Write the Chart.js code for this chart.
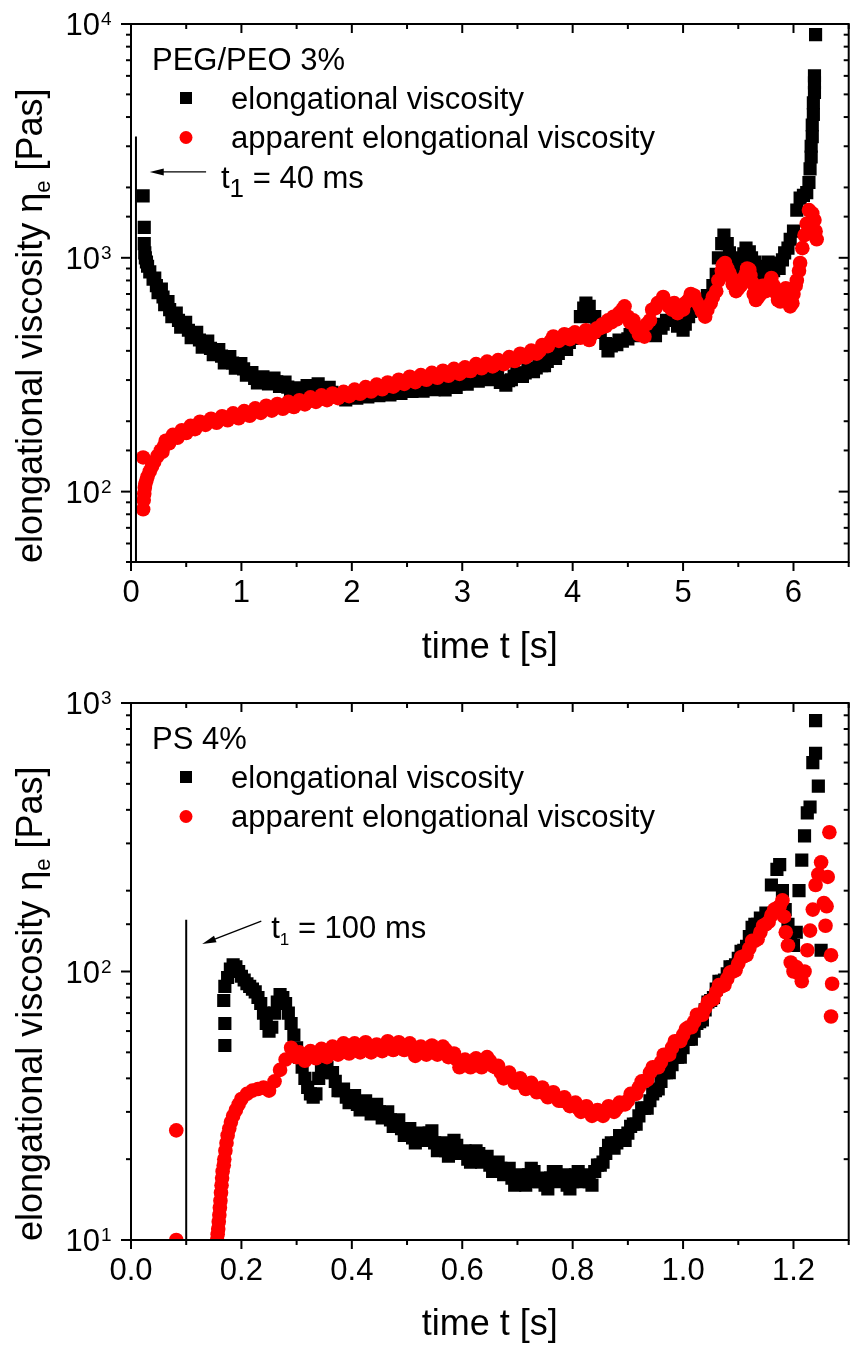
<!DOCTYPE html>
<html>
<head>
<meta charset="utf-8">
<script src="https://cdn.jsdelivr.net/npm/chart.js@4.4.1/dist/chart.umd.min.js"></script>
<style>
  body { margin: 0; background: #fff; }
  .wrap { position: relative; width: 858px; height: 1349px; }
  canvas { position: absolute; left: 0; }
</style>
</head>
<body>
<div class="wrap">
  <canvas id="panel-peo" width="858" height="680" style="top:0"></canvas>
  <canvas id="panel-ps" width="858" height="680" style="top:669px"></canvas>
</div>
<script>
// Values, as [time s, viscosity Pas].
// The second block of each dense series holds the points on the other edge of the band.

// PEG/PEO 3% - elongational viscosity (black squares)
const peoElong = [
  [0.11,1840],[0.12,1350],[0.12,1150],[0.125,1050],[0.13,1000],[0.14,960],[0.15,920],[0.17,870],
  [0.2,810],[0.23,760],[0.26,720],[0.29,680],[0.32,640],[0.35,600],[0.39,565],[0.43,540],
  [0.47,515],[0.52,490],[0.57,465],[0.62,445],[0.67,425],[0.72,410],[0.77,395],[0.82,380],
  [0.87,365],[0.92,355],[0.97,345],[1.02,335],[1.07,320],[1.12,305],[1.17,300],[1.22,300],
  [1.27,298],[1.32,295],[1.37,290],[1.42,280],[1.47,268],[1.52,270],[1.57,272],[1.62,278],
  [1.67,280],[1.72,278],[1.77,272],[1.82,266],[1.87,258],[1.92,252],[1.97,255],[2.02,256],
  [2.07,258],[2.12,260],[2.17,260],[2.22,263],[2.27,266],[2.32,265],[2.37,266],[2.42,270],
  [2.47,272],[2.52,275],[2.57,277],[2.62,275],[2.67,278],[2.72,282],[2.77,280],[2.82,279],
  [2.87,283],[2.92,286],[2.97,289],[3.02,295],[3.07,300],[3.12,304],[3.17,308],[3.22,306],
  [3.27,310],[3.32,308],[3.37,296],[3.42,298],[3.47,312],[3.52,318],[3.57,322],[3.62,330],
  [3.67,338],[3.72,346],[3.77,360],[3.82,374],[3.87,390],[3.92,408],[3.97,435],[4.02,470],
  [4.07,560],[4.1,610],[4.15,620],[4.2,560],[4.25,480],[4.3,430],[4.35,420],[4.4,425],
  [4.45,440],[4.5,450],[4.55,465],[4.6,470],[4.65,480],[4.7,470],[4.75,465],[4.8,500],
  [4.85,540],[4.9,540],[4.95,510],[5.0,490],[5.05,560],[5.1,620],[5.15,640],[5.2,650],
  [5.25,680],[5.3,850],[5.35,1150],[5.4,1150],[5.45,980],[5.5,930],[5.55,1040],[5.6,1060],
  [5.65,960],[5.7,900],[5.75,920],[5.8,950],[5.85,930],[5.9,980],[5.95,1100],[6.0,1300],
  [6.03,1600],[6.06,1800],[6.09,1850],[6.12,1900],[6.14,2100],[6.15,2400],[6.16,2700],[6.16,3000],
  [6.17,3300],[6.17,3700],[6.18,4100],[6.18,4600],[6.19,5100],[6.19,5600],[6.19,6000],[6.2,9000],
  [0.215,820],[0.245,710],[0.275,735],[0.305,630],[0.335,650],[0.37,560],[0.41,580],[0.45,505],
  [0.495,530],[0.545,455],[0.595,480],[0.645,415],[0.695,440],[0.745,385],[0.795,405],[0.845,355],
  [0.895,378],[0.945,337],[0.995,353],[1.045,315],[1.095,323],[1.145,292],[1.195,310],[1.245,289],
  [1.295,306],[1.345,282],[1.395,294],[1.445,266],[1.495,278],[1.545,263],[1.595,284],[1.645,271],
  [1.695,289],[1.745,268],[1.795,279],[1.845,256],[1.895,262],[1.945,247],[2.045,251],[2.095,265],
  [2.145,254],[2.195,269],[2.245,257],[2.295,273],[2.345,259],[2.395,275],[2.445,263],[2.495,281],
  [2.545,268],[2.595,284],[2.645,269],[2.695,287],[2.745,273],[2.795,289],[2.845,272],[2.895,293],
  [2.945,279],[2.995,299],[3.045,288],[3.095,311],[3.145,297],[3.195,317],[3.245,301],[3.295,317],
  [3.345,293],[3.395,285],[3.445,301],[3.495,321],[3.545,311],[3.595,334],[3.645,326],[3.695,350],
  [3.745,346],[3.795,376],[3.845,371],[3.895,408],[3.945,406],[3.995,452],
  [4.12,640],[4.17,560],[4.22,520],[4.32,400],[4.42,445],[4.52,470],[4.62,490],[4.72,480],
  [4.82,520],[4.92,560],[5.02,520],[5.07,590],[5.12,660],[5.17,610],[5.22,690],[5.27,760],
  [5.32,1000],[5.37,1250],[5.42,1050],[5.47,900],[5.52,1000],[5.57,1100],[5.62,1000],[5.67,880],
  [5.72,850],[5.77,960],[5.82,880],[5.87,900],[5.92,1050],[5.97,1200]
];

// PEG/PEO 3% - apparent elongational viscosity (red circles)
const peoApparent = [
  [0.11,140],[0.11,84],[0.115,92],[0.12,98],[0.125,104],[0.13,108],[0.14,112],[0.15,116],
  [0.17,122],[0.19,128],[0.21,134],[0.24,142],[0.27,150],[0.3,157],[0.33,163],[0.36,168],
  [0.4,172],[0.44,176],[0.48,180],[0.52,184],[0.56,188],[0.6,192],[0.65,196],[0.7,199],
  [0.75,201],[0.8,203],[0.85,206],[0.9,209],[0.95,210],[1.0,213],[1.05,214],[1.1,218],
  [1.15,221],[1.2,224],[1.25,226],[1.3,228],[1.35,230],[1.4,233],[1.45,234],[1.5,236],
  [1.55,240],[1.6,242],[1.65,246],[1.7,249],[1.75,250],[1.8,253],[1.85,255],[1.9,257],
  [1.95,260],[2.0,262],[2.05,266],[2.1,268],[2.15,272],[2.2,274],[2.25,278],[2.3,281],
  [2.35,284],[2.4,289],[2.45,292],[2.5,298],[2.55,300],[2.6,302],[2.65,306],[2.7,310],
  [2.75,312],[2.8,316],[2.85,318],[2.9,322],[2.95,324],[3.0,326],[3.05,330],[3.1,338],
  [3.15,342],[3.2,345],[3.25,348],[3.3,350],[3.35,355],[3.4,360],[3.45,366],[3.5,372],
  [3.55,380],[3.6,385],[3.65,392],[3.7,400],[3.75,420],[3.8,440],[3.85,452],[3.9,455],
  [3.95,460],[4.0,462],[4.05,470],[4.1,465],[4.15,445],[4.2,480],[4.25,500],[4.3,510],
  [4.35,530],[4.4,545],[4.45,600],[4.5,560],[4.55,540],[4.6,470],[4.65,460],[4.7,540],
  [4.75,610],[4.8,650],[4.85,640],[4.9,600],[4.95,580],[5.0,600],[5.05,660],[5.1,690],
  [5.15,620],[5.2,560],[5.25,640],[5.3,720],[5.35,880],[5.38,950],[5.42,860],[5.45,770],
  [5.5,740],[5.53,780],[5.57,860],[5.6,890],[5.63,780],[5.66,660],[5.7,700],[5.75,720],
  [5.8,820],[5.85,700],[5.88,650],[5.91,720],[5.94,680],[5.97,620],[6.0,700],[6.03,800],
  [6.06,950],[6.08,1100],[6.1,1250],[6.12,1400],[6.14,1600],[6.17,1550],[6.19,1450],[6.2,1300],
  [6.21,1200],
  [0.285,148],[0.315,165],[0.345,161],[0.38,175],[0.42,170],[0.46,183],[0.5,178],[0.54,191],
  [0.58,185],[0.625,199],[0.675,193],[0.725,205],[0.775,197],[0.825,210],[0.875,202],[0.925,216],
  [0.975,206],[1.025,221],[1.075,211],[1.125,227],[1.175,217],[1.225,233],[1.275,222],[1.325,237],
  [1.375,226],[1.425,242],[1.475,230],[1.525,246],[1.575,236],[1.625,253],[1.675,242],[1.725,258],
  [1.775,246],[1.825,263],[1.875,251],[1.925,267],[1.975,256],[2.025,273],[2.075,262],[2.125,280],
  [2.175,268],[2.225,287],[2.275,274],[2.325,293],[2.375,281],[2.425,301],[2.475,289],[2.525,310],
  [2.575,294],[2.625,315],[2.675,301],[2.725,322],[2.775,307],[2.825,329],[2.875,313],[2.925,335],
  [2.975,319],[3.025,340],[3.075,328],[3.125,351],[3.175,337],[3.225,360],[3.275,343],[3.325,365],
  [3.375,351],[3.425,376],[3.475,362],[3.525,389],[3.575,375],[3.625,401],[3.675,389],[3.725,424],
  [3.775,419],[3.825,461],[3.875,441],[3.925,471],[3.975,449],
  [4.02,480],[4.07,455],[4.12,490],[4.17,470],[4.22,500],[4.27,520],[4.32,540],[4.37,560],
  [4.42,580],[4.47,620],[4.52,530],[4.57,500],[4.62,500],[4.67,520],[4.72,600],[4.77,640],
  [4.82,680],[4.87,620],[4.92,640],[4.97,620],[5.02,640],[5.07,700],[5.12,650],[5.17,590],
  [5.22,600],[5.27,680],[5.32,800],[5.36,930],[5.4,900],[5.44,820],[5.48,720],[5.52,760],
  [5.55,820],[5.58,900],[5.61,840],[5.64,700],[5.68,680],[5.72,760],[5.78,780],[5.82,760],
  [5.86,660],[5.9,690],[5.93,740],[5.96,650],[5.99,640],[6.02,760],[6.05,880]
];

// PS 4% - elongational viscosity (black squares)
const psElong = [
  [0.17,53],[0.17,64],[0.168,78],[0.17,88],[0.175,95],[0.18,102],[0.185,106],[0.19,104],
  [0.195,100],[0.2,96],[0.205,93],[0.21,90],[0.215,88],[0.22,86],[0.225,84],[0.23,80],
  [0.235,76],[0.24,70],[0.245,64],[0.25,60],[0.255,62],[0.26,70],[0.265,77],[0.27,82],
  [0.275,80],[0.28,76],[0.285,70],[0.29,64],[0.295,58],[0.3,52],[0.305,48],[0.31,44],
  [0.315,40],[0.32,37],[0.325,35],[0.33,34],[0.335,35],[0.34,40],[0.345,44],[0.35,46],
  [0.355,44],[0.36,42],[0.37,39],[0.38,36],[0.39,34],[0.4,33],[0.41,32],[0.42,32],
  [0.43,31],[0.44,31],[0.45,30],[0.46,29],[0.47,28],[0.48,27],[0.49,26],[0.5,25],
  [0.51,24],[0.52,23.5],[0.53,24],[0.54,25],[0.55,23],[0.56,22],[0.57,21.5],[0.58,22],
  [0.59,22.5],[0.6,21],[0.61,20],[0.62,20.5],[0.63,21],[0.64,20],[0.65,19],[0.66,18.5],
  [0.67,18.5],[0.68,18],[0.69,17],[0.7,16.5],[0.71,16.5],[0.72,17.5],[0.73,18],[0.74,16.5],
  [0.75,16],[0.76,17],[0.77,18],[0.78,17],[0.79,16],[0.8,16.5],[0.81,18],[0.82,17],
  [0.83,16.5],[0.84,18],[0.85,19],[0.86,21],[0.87,23],[0.88,23],[0.89,24],[0.9,25],
  [0.91,27],[0.92,29],[0.93,31],[0.94,33],[0.95,36],[0.96,39],[0.97,42],[0.98,45],
  [0.99,48],[1.0,52],[1.01,56],[1.02,60],[1.03,65],[1.04,72],[1.05,78],[1.06,86],
  [1.07,92],[1.08,98],[1.09,104],[1.1,112],[1.11,120],[1.12,135],[1.13,150],[1.14,158],
  [1.15,165],[1.16,210],[1.17,240],[1.175,250],[1.18,200],[1.185,170],[1.19,150],[1.195,130],
  [1.2,125],[1.205,140],[1.21,200],[1.215,260],[1.22,320],[1.225,390],[1.23,410],[1.235,600],
  [1.24,650],[1.24,860],[1.245,490],[1.25,120],
  [0.365,42],[0.375,36],[0.385,36.5],[0.395,32.5],[0.405,34.5],[0.415,30.5],[0.425,33],[0.435,29.5],
  [0.445,32],[0.455,28.5],[0.465,30],[0.475,26.5],[0.485,28],[0.495,24.5],[0.505,26],[0.515,23],
  [0.525,25],[0.535,23.5],[0.545,25.5],[0.555,21.5],[0.565,23],[0.575,20.5],[0.585,23.5],[0.595,21],
  [0.605,21.5],[0.615,19.5],[0.625,21.5],[0.635,19.5],[0.645,20.5],[0.655,18],[0.665,19.5],[0.675,17.5],
  [0.685,18.5],[0.695,16],[0.705,17.5],[0.715,16],[0.725,18.5],[0.735,16.5],[0.745,17],[0.755,15.5],
  [0.765,18],[0.775,16.5],[0.785,17.5],[0.795,15.5],[0.805,17.5],[0.815,16.5],[0.825,17.5],[0.835,16],
  [0.845,19],[0.855,19.5],[0.865,22.5],[0.875,22],[0.885,24.5],[0.895,23.5],[0.905,26.5],[0.915,27],
  [0.925,31],[0.935,31],[0.945,35],[0.955,36.5],[0.965,42],[0.975,42],[0.985,48],[0.995,48],
  [1.005,56],[1.015,56],[1.025,64],[1.035,66],[1.045,77],[1.055,80],[1.065,92],[1.075,93],
  [1.085,104],[1.095,106],[1.105,119],[1.115,124],[1.125,146],[1.135,150]
];

// PS 4% - apparent elongational viscosity (red circles)
const psApparent = [
  [0.082,25.6],[0.082,10],[0.156,10],[0.157,10.5],[0.158,11],[0.159,11.7],[0.16,12.4],[0.161,13.2],
  [0.162,14],[0.163,15],[0.164,16],[0.165,17],[0.166,18],[0.168,19],[0.169,20],[0.171,21.5],
  [0.173,23],[0.175,24.5],[0.178,26],[0.181,27.5],[0.185,29],[0.19,30.5],[0.195,32],[0.2,33.5],
  [0.21,35],[0.22,36],[0.23,36.5],[0.24,37],[0.25,36],[0.26,39],
  [0.27,43],[0.28,47],[0.29,52],[0.3,48],[0.31,48],[0.32,48.5],[0.33,49],[0.34,49.5],
  [0.35,50],[0.36,50],[0.37,51],[0.38,52],[0.39,51.5],[0.4,51.5],[0.41,52],[0.42,52.5],
  [0.43,52],[0.44,51.5],[0.45,52],[0.46,53],[0.47,53],[0.48,52],[0.49,53],[0.5,52.5],
  [0.51,51],[0.52,50],[0.53,51],[0.54,51],[0.55,51.5],[0.56,50],[0.57,51],[0.58,49],
  [0.59,47],[0.6,45],[0.61,45.5],[0.62,46],[0.63,45],[0.64,46],[0.65,46.5],[0.66,44],
  [0.67,42],[0.68,40.5],[0.69,40],[0.7,39],[0.71,38],[0.72,37.5],[0.73,37],[0.74,36],
  [0.75,35],[0.76,34.5],[0.77,34],[0.78,33],[0.79,32.5],[0.8,32],[0.81,31],[0.82,30.5],
  [0.83,30],[0.84,29.5],[0.85,29.5],[0.86,30.5],[0.87,31],[0.88,31],[0.89,32],[0.9,33],
  [0.91,35],[0.92,37],[0.93,39],[0.94,42],[0.95,44],[0.96,46],[0.97,49],[0.98,52],
  [0.99,55],[1.0,58],[1.01,62],[1.02,65],[1.03,69],[1.04,73],[1.05,78],[1.06,84],
  [1.07,88],[1.08,94],[1.09,100],[1.1,107],[1.11,114],[1.12,122],[1.13,130],[1.14,140],
  [1.15,150],[1.16,162],[1.17,172],[1.18,184],[1.183,160],[1.186,140],[1.19,125],[1.195,108],
  [1.2,100],[1.205,104],[1.21,98],[1.215,92],[1.22,100],[1.225,120],[1.23,142],[1.235,170],
  [1.24,210],[1.245,230],[1.25,255],[1.255,180],[1.258,148],[1.26,175],[1.262,225],[1.265,330],
  [1.268,115],[1.27,90],[1.268,68],
  [0.305,50],[0.315,46.5],[0.325,50.5],[0.335,47.5],[0.345,51.5],[0.355,48],[0.365,52.5],[0.375,49],
  [0.385,54],[0.395,49.5],[0.405,54],[0.415,50],[0.425,54.5],[0.435,50],[0.445,53.5],[0.455,50.5],
  [0.465,55],[0.475,51],[0.485,54.5],[0.495,51],[0.505,54],[0.515,48.5],[0.525,52.5],[0.535,49],
  [0.545,53],[0.555,49],[0.565,52.5],[0.575,48],[0.585,49.5],[0.595,44],[0.605,47],[0.615,44],
  [0.625,47.5],[0.635,44],[0.645,48],[0.655,44.5],[0.665,44.5],[0.675,40],[0.685,42],[0.695,38.5],
  [0.705,40],[0.715,36.5],[0.725,38.5],[0.735,35.5],[0.745,37],[0.755,34],[0.765,35.5],[0.775,33],
  [0.785,34],[0.795,31.5],[0.805,32.5],[0.815,30],[0.825,31.5],[0.835,29],[0.845,30.5],[0.855,29],
  [0.865,31.5],[0.875,30],[0.885,32.5],[0.895,32],[0.905,35],[0.915,35],[0.925,39],[0.935,39.5],
  [0.945,44],[0.955,44],[0.965,49],[0.975,49],[0.985,55],[0.995,55],[1.005,61],[1.015,62],
  [1.025,69],[1.035,69],[1.045,77],[1.055,79],[1.065,89],[1.075,89],[1.085,99],[1.095,101],
  [1.105,113],[1.115,115],[1.125,130],[1.135,132],[1.145,148],[1.155,153],[1.165,170],[1.175,175]
];

// t1 markers: vertical line (x, top value), arrow (tail -> head) and label anchor, in data units.
const peoMarker = { x: 0.045, top: 3300, tail: [0.68, 2330], head: [0.17, 2330], label: [0.815, 1990], value: '40 ms' };
const psMarker = { x: 0.1, top: 156, tail: [0.236, 154], head: [0.129, 126.5], label: [0.254, 133], value: '100 ms' };

const RED = '#ff0000';
const FONT = '"Liberation Sans", Arial, sans-serif';
Chart.defaults.font.family = FONT;
Chart.defaults.color = '#000';

function toPoints(pairs) {
    return pairs.map(p => ({x: p[0], y: p[1]}));
}

function font(size) {
    return size + 'px ' + FONT;
}

function strokeLine(ctx, x1, y1, x2, y2) {
    ctx.beginPath();
    ctx.moveTo(x1, y1);
    ctx.lineTo(x2, y2);
    ctx.stroke();
}

// Draws frame, ticks, y labels, y title, legend and the t1 marker.
const panelDeco = {
    id: 'panelDeco',
    afterDraw(chart, args, o) {
        const {ctx, chartArea: a, scales: {x, y}} = chart;
        ctx.save();
        ctx.strokeStyle = '#000';
        ctx.fillStyle = '#000';
        ctx.lineWidth = 2;
        ctx.strokeRect(a.left, a.top, a.right - a.left, a.bottom - a.top);

        // x ticks: out at the bottom, in at the top
        const n = Math.round((x.max - x.min) / o.xMinor);
        for (let i = 0; i <= n; i++) {
            const v = x.min + i * o.xMinor;
            const r = v / o.xMajor;
            const len = Math.abs(r - Math.round(r)) < 1e-6 ? 9 : 5;
            const px = x.getPixelForValue(v);
            strokeLine(ctx, px, a.bottom, px, a.bottom + len);
            strokeLine(ctx, px, a.top, px, a.top + len);
        }

        // y ticks: out on the left, in on the right, and decade labels
        y.ticks.forEach(t => {
            const e = Math.log10(t.value);
            const decade = Math.abs(e - Math.round(e)) < 1e-9;
            const len = decade ? 10 : 5;
            const py = y.getPixelForValue(t.value);
            strokeLine(ctx, a.left - len, py, a.left, py);
            strokeLine(ctx, a.right - len, py, a.right, py);
            if (decade) {
                ctx.font = font(31);
                ctx.textAlign = 'right';
                ctx.textBaseline = 'alphabetic';
                ctx.fillText('10', a.left - 31, py + 11);
                ctx.font = font(19);
                ctx.textAlign = 'left';
                ctx.fillText(String(Math.round(e)), a.left - 30, py + 1);
            }
        });

        // y title, rotated
        ctx.save();
        ctx.translate(42, a.bottom + 1);
        ctx.rotate(-Math.PI / 2);
        ctx.textAlign = 'left';
        ctx.textBaseline = 'alphabetic';
        let cx = 0;
        [['elongational viscosity \u03b7', 36, 0], ['e', 22, 8], [' [Pas]', 36, 0]].forEach(part => {
            ctx.font = font(part[1]);
            ctx.fillText(part[0], cx, part[2]);
            cx += ctx.measureText(part[0]).width;
        });
        ctx.restore();

        // legend
        const lx = a.left, ly = a.top;
        ctx.font = font(31);
        ctx.textAlign = 'left';
        ctx.fillText(o.heading, lx + 21, ly + 46);
        ctx.fillRect(lx + 49, ly + 68, 12, 12);
        ctx.fillText('elongational viscosity', lx + 100, ly + 84.5);
        ctx.fillStyle = RED;
        ctx.beginPath();
        ctx.arc(lx + 55, ly + 113.5, 6.5, 0, Math.PI * 2);
        ctx.fill();
        ctx.fillStyle = '#000';
        ctx.fillText('apparent elongational viscosity', lx + 100, ly + 123.5);

        // t1 marker
        const m = o.marker;
        const mx = x.getPixelForValue(m.x);
        ctx.lineWidth = 2;
        strokeLine(ctx, mx, a.bottom, mx, y.getPixelForValue(m.top));
        const tx = x.getPixelForValue(m.tail[0]), ty = y.getPixelForValue(m.tail[1]);
        const hx = x.getPixelForValue(m.head[0]), hy = y.getPixelForValue(m.head[1]);
        const ang = Math.atan2(hy - ty, hx - tx);
        ctx.lineWidth = 1.3;
        strokeLine(ctx, tx, ty, hx - 10 * Math.cos(ang), hy - 10 * Math.sin(ang));
        ctx.beginPath();
        ctx.moveTo(hx, hy);
        ctx.lineTo(hx - 14 * Math.cos(ang) + 3.5 * Math.sin(ang), hy - 14 * Math.sin(ang) - 3.5 * Math.cos(ang));
        ctx.lineTo(hx - 14 * Math.cos(ang) - 3.5 * Math.sin(ang), hy - 14 * Math.sin(ang) + 3.5 * Math.cos(ang));
        ctx.closePath();
        ctx.fill();
        let lxp = x.getPixelForValue(m.label[0]);
        const lyp = y.getPixelForValue(m.label[1]);
        ctx.font = font(31);
        ctx.fillText('t', lxp, lyp);
        lxp += ctx.measureText('t').width;
        ctx.font = font(o.subSize);
        ctx.fillText('1', lxp, lyp + o.subDrop);
        lxp += ctx.measureText('1').width;
        ctx.font = font(31);
        ctx.fillText(' = ' + m.value, lxp, lyp);

        ctx.restore();
    }
};

function makePanel(canvasId, p) {
    return new Chart(document.getElementById(canvasId), {
        type: 'scatter',
        data: {
            datasets: [{
                label: 'apparent elongational viscosity',
                data: toPoints(p.apparent),
                pointStyle: 'circle',
                pointRadius: 7.3,
                backgroundColor: RED,
                borderWidth: 0,
                order: 0
            }, {
                label: 'elongational viscosity',
                data: toPoints(p.elong),
                pointStyle: 'rect',
                pointRadius: 9.3,
                backgroundColor: '#000',
                borderWidth: 0,
                order: 1
            }]
        },
        options: {
            responsive: false,
            animation: false,
            events: [],
            devicePixelRatio: 1,
            layout: {padding: {top: p.padTop, right: 1, left: 0, bottom: 0}},
            plugins: {
                legend: {display: false},
                tooltip: {enabled: false},
                panelDeco: {
                    xMajor: p.xStep, xMinor: p.xMinor, heading: p.heading,
                    marker: p.marker, subSize: p.subSize, subDrop: p.subDrop
                }
            },
            scales: {
                x: {
                    type: 'linear',
                    min: 0,
                    max: p.xMax,
                    afterFit: s => { s.height = p.xAxisHeight; },
                    grid: {display: false, drawTicks: false},
                    border: {display: false},
                    ticks: {
                        stepSize: p.xStep,
                        includeBounds: false,
                        autoSkip: false,
                        maxRotation: 0,
                        padding: 13,
                        font: {size: 31},
                        callback: v => Number(v).toFixed(p.xDecimals)
                    },
                    title: {
                        display: true,
                        text: 'time t [s]',
                        font: {size: 36},
                        padding: {top: 0, bottom: p.titlePad}
                    }
                },
                y: {
                    type: 'logarithmic',
                    min: p.yMin,
                    max: p.yMax,
                    afterFit: s => { s.width = 131; },
                    grid: {display: false, drawTicks: false},
                    border: {display: false},
                    ticks: {display: false, autoSkip: false}
                }
            }
        },
        plugins: [panelDeco]
    });
}

makePanel('panel-peo', {
    elong: peoElong, apparent: peoApparent, heading: 'PEG/PEO 3%', marker: peoMarker,
    xMax: 6.5, xStep: 1, xMinor: 0.5, xDecimals: 0, yMin: 50, yMax: 10000,
    padTop: 24, xAxisHeight: 118, titlePad: 10, subSize: 26, subDrop: 9
});

makePanel('panel-ps', {
    elong: psElong, apparent: psApparent, heading: 'PS 4%', marker: psMarker,
    xMax: 1.3, xStep: 0.2, xMinor: 0.1, xDecimals: 1, yMin: 10, yMax: 1000,
    padTop: 34, xAxisHeight: 109, titlePad: 2, subSize: 17, subDrop: 7
});
</script>
</body>
</html>
